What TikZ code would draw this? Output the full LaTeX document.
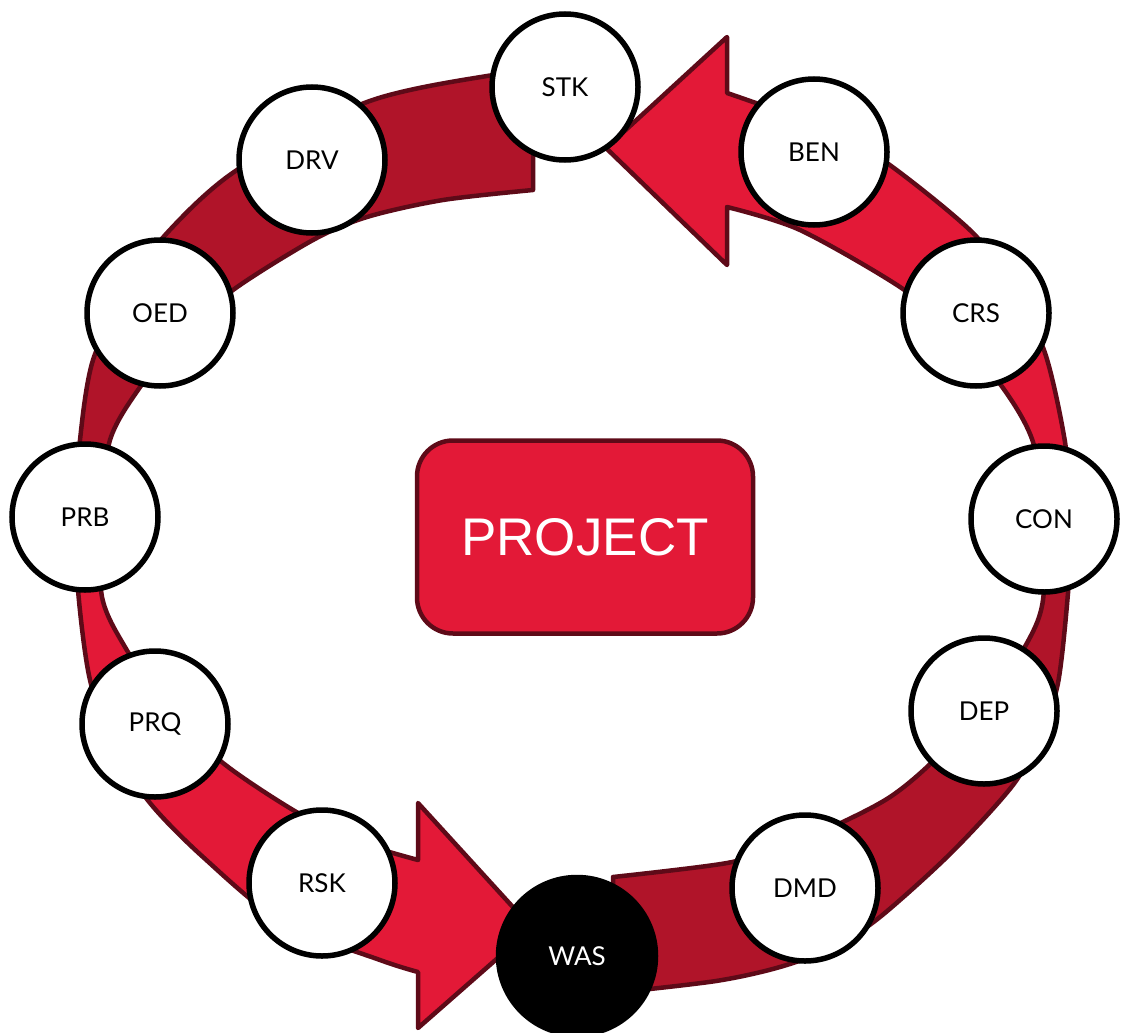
\documentclass[tikz,border=0pt]{standalone}
\usepackage{fontspec}
\setmainfont{Lato}
\newfontfamily\boxfont{Liberation Sans}
\usetikzlibrary{backgrounds}
\definecolor{ringred}{RGB}{227,25,55}
\definecolor{ringdark}{RGB}{176,20,41}
\definecolor{ringedge}{RGB}{94,10,24}

\begin{document}
\begin{tikzpicture}[x=1pt,y=-1pt]
  \tikzstyle{stage}=[circle,draw=black,line width=5.5pt,fill=white,
                     minimum size=146pt,inner sep=0pt,font=\fontsize{26}{30}\selectfont]
  \tikzstyle{waste stage}=[stage,fill=black,text=white,minimum size=157pt]
  \tikzstyle{band}=[draw=ringedge,line width=4.5pt,line join=round]
  \useasboundingbox (0,0) rectangle (1124,1033);
  % centre box
  \node [draw=ringedge,line width=4.5pt,fill=ringred,rounded corners=36pt,
         minimum width=336pt,minimum height=193pt,text=white,
         font=\boxfont\fontsize{53}{60}\selectfont] (project) at (585,537) {PROJECT};
  % stages round the ring
  \node [stage] (stk) at (565,87)  {STK};
  \node [stage] (ben) at (814,152) {BEN};
  \node [stage] (crs) at (976,313) {CRS};
  \node [stage] (con) at (1044,519) {CON};
  \node [stage] (dep) at (984,711) {DEP};
  \node [stage] (dmd) at (805,888) {DMD};
  \node [waste stage] (was) at (577,956) {WAS};
  \node [stage] (rsk) at (322,883) {RSK};
  \node [stage] (prq) at (155,724) {PRQ};
  \node [stage] (prb) at (85,517)  {PRB};
  \node [stage] (oed) at (160,313) {OED};
  \node [stage] (drv) at (312,160) {DRV};
  \begin{scope}[on background layer]
    % left half: dark from the top, bright down to the arrow at WAS
    \filldraw [band,fill=ringdark] plot[smooth] coordinates {(533,74) (487,76) (367,102)
        (237,170) (167,233) (128,288) (93,360) (80,440) (76,517)}
      -- plot[smooth] coordinates {(99,517) (110,440) (138,390) (182,336) (233,290)
        (313,240) (367,217) (443,200) (533,190)} -- cycle;
    \filldraw [band,fill=ringred] plot[smooth] coordinates {(76,517) (78,590) (90,680)
        (115,748) (150,803) (203,857) (282,922) (380,960) (418,972)}
      -- (418,1028) -- (532,928) -- (418,803)
      -- plot[smooth] coordinates {(418,860) (352,840) (293,810) (223,763) (168,710)
        (125,647) (102,597) (99,517)} -- cycle;
    % right half: bright up to the arrow at STK, dark down to WAS
    \filldraw [band,fill=ringred] (727,37)
      -- plot[smooth] coordinates {(727,93) (753,102) (823,127) (887,163) (973,233)
        (1013,289) (1045,353) (1065,442) (1072,519)}
      -- plot[smooth] coordinates {(1045,519) (1033,442) (1003,388) (955,333) (900,287)
        (800,230) (727,207)}
      -- (727,265) -- (606,148) -- cycle;
    \filldraw [band,fill=ringdark] plot[smooth] coordinates {(1072,519) (1068,593)
        (1058,683) (1040,736) (1013,785) (951,853) (880,917) (834,947) (780,967)
        (716,981) (613,993)}
      -- plot[smooth] coordinates {(613,877) (727,863) (790,845) (847,820) (890,797)
        (927,767) (983,710) (1027,643) (1043,600) (1045,519)} -- cycle;
  \end{scope}
\end{tikzpicture}
\end{document}
